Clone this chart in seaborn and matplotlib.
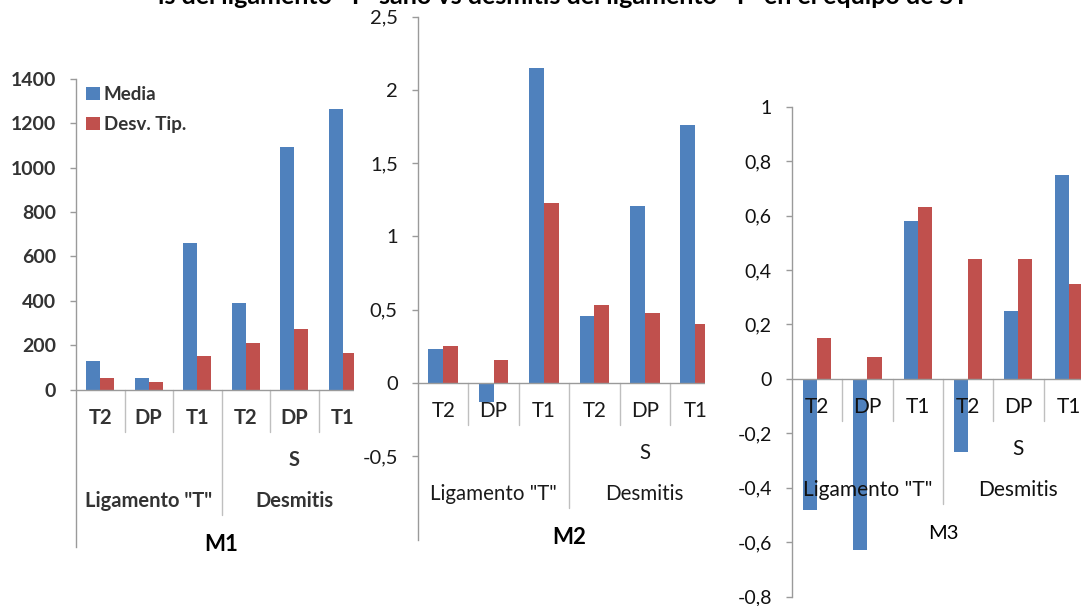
import matplotlib
matplotlib.use("Agg")
import matplotlib.pyplot as plt
from matplotlib.patches import Patch
import pandas as pd
import seaborn as sns

# ---- data -------------------------------------------------------------
tramos = ["T2", "DP", "T1"]
grupos = ['Ligamento "T"', "Desmitis"]
series = ["Media", "Desv. Tip."]

m1_media = [128, 52, 661, 388, 1095, 1263]
m1_desv = [52, 32, 150, 210, 275, 165]

m2_media = [0.23, -0.13, 2.15, 0.46, 1.21, 1.76]
m2_desv = [0.25, 0.16, 1.23, 0.53, 0.48, 0.40]

m3_media = [-0.48, -0.63, 0.58, -0.27, 0.25, 0.75]
m3_desv = [0.15, 0.08, 0.63, 0.44, 0.44, 0.35]

m1_ticks = [0, 200, 400, 600, 800, 1000, 1200, 1400]
m1_labels = ["0", "200", "400", "600", "800", "1000", "1200", "1400"]
m2_ticks = [-0.5, 0, 0.5, 1, 1.5, 2, 2.5]
m2_labels = ["-0,5", "0", "0,5", "1", "1,5", "2", "2,5"]
m3_ticks = [-0.8, -0.6, -0.4, -0.2, 0, 0.2, 0.4, 0.6, 0.8, 1]
m3_labels = ["-0,8", "-0,6", "-0,4", "-0,2", "0", "0,2", "0,4", "0,6", "0,8", "1"]

titulo = 'ís del ligamento "T" sano vs desmitis del ligamento "T" en el equipo de ST'

# ---- style ------------------------------------------------------------
sns.set_theme(style="white")
plt.rcParams["font.family"] = ["Lato", "DejaVu Sans"]

AZUL = "#4F81BD"
ROJO = "#C0504D"
GRIS = "#9A9A9A"
GRIS_SEP = "#BFBFBF"

W, H = 1081, 606
fig = plt.figure(figsize=(W / 100, H / 100), dpi=100)
fig.patch.set_facecolor("white")

claves = [f"{g} {t}" for g in grupos for t in tramos]


def px_axes(left, top, right, bottom):
    return fig.add_axes([left / W, 1 - bottom / H, (right - left) / W, (bottom - top) / H])


def panel(box, media, desv, ylim, ticks, labels, group_w, bar_w, nombre,
          txt_color, txt_weight, tick_size, cat_size, name_weight, name_size):
    left, top, right, bottom = box
    ax = px_axes(left, top, right, bottom)
    df = pd.DataFrame({
        "clave": claves * 2,
        "valor": list(media) + list(desv),
        "serie": [series[0]] * len(claves) + [series[1]] * len(claves),
    })
    sns.barplot(data=df, x="clave", y="valor", hue="serie", order=claves,
                hue_order=series, palette=[AZUL, ROJO], saturation=1,
                width=bar_w, linewidth=0, errorbar=None, legend=False, ax=ax)
    ax.set_xlim(-0.5, -0.5 + (right - left) / group_w)
    ax.set_ylim(*ylim)
    ax.patch.set_alpha(0)
    ax.set_xlabel("")
    ax.set_ylabel("")
    ax.set_xticks([])
    ax.set_yticks(ticks)
    ax.set_yticklabels(labels)
    ax.tick_params(axis="y", which="major", left=True, length=4.5, width=1,
                   color=GRIS, pad=10, labelsize=tick_size, labelcolor=txt_color)
    for lab in ax.get_yticklabels():
        lab.set_fontweight(txt_weight)
    for s in ("top", "right", "bottom"):
        ax.spines[s].set_visible(False)
    ax.spines["left"].set_color(GRIS)
    ax.spines["left"].set_linewidth(1)
    ax.axhline(0, color=GRIS, lw=1, zorder=3)

    ppu = (bottom - top) / (ylim[1] - ylim[0])

    def dy(px):
        return -px / ppu

    # category separators below the zero line
    for xb in (0.5, 1.5, 3.5, 4.5, 5.5):
        ax.plot([xb, xb], [0, dy(42)], color=GRIS_SEP, lw=1)
    ax.plot([2.5, 2.5], [0, dy(125)], color=GRIS_SEP, lw=1)

    kw = dict(ha="center", va="center", color=txt_color, fontweight=txt_weight,
              fontsize=cat_size, zorder=4)
    for i, t in enumerate(tramos * 2):
        ax.text(i, dy(28.5), t, **kw)
    ax.text(4, dy(70), "S", **kw)
    ax.text(1, dy(111), grupos[0], **kw)
    ax.text(4, dy(111), grupos[1], **kw)
    ax.text(2.5, dy(155), nombre, ha="center", va="center", color="black",
            fontweight=name_weight, fontsize=name_size, zorder=4)
    return ax


ax1 = panel((76, 79, 354, 547), m1_media, m1_desv, (-710, 1400), m1_ticks, m1_labels,
            48.5, 0.57, "M1", "#333333", "bold", 14, 14.5, "bold", 16)
ax2 = panel((418, 16.5, 705, 540), m2_media, m2_desv, (-1.071, 2.5), m2_ticks, m2_labels,
            50.4, 0.59, "M2", "#1a1a1a", "normal", 14.5, 14.8, "bold", 16)
ax3 = panel((792, 106.7, 1081, 596.7), m3_media, m3_desv, (-0.8, 1.0), m3_ticks, m3_labels,
            50.3, 0.56, "M3", "#111111", "normal", 14, 15, "normal", 14.5)

handles = [Patch(facecolor=AZUL, edgecolor="none"), Patch(facecolor=ROJO, edgecolor="none")]
ax1.legend(handles, series, loc="upper left", bbox_to_anchor=(86 / W, 1 - 86 / H),
           bbox_transform=fig.transFigure, frameon=False, borderaxespad=0, borderpad=0,
           handlelength=0.75, handleheight=0.75, handletextpad=0.2, labelspacing=0.7,
           prop={"size": 13.5, "weight": "bold"}, labelcolor="#333333")

fig.text(563 / W, 1 - 4.5 / H, titulo, ha="center", va="baseline", fontsize=18,
         fontweight="bold", color="black")

fig.savefig("out.png", dpi=100, facecolor="white")
